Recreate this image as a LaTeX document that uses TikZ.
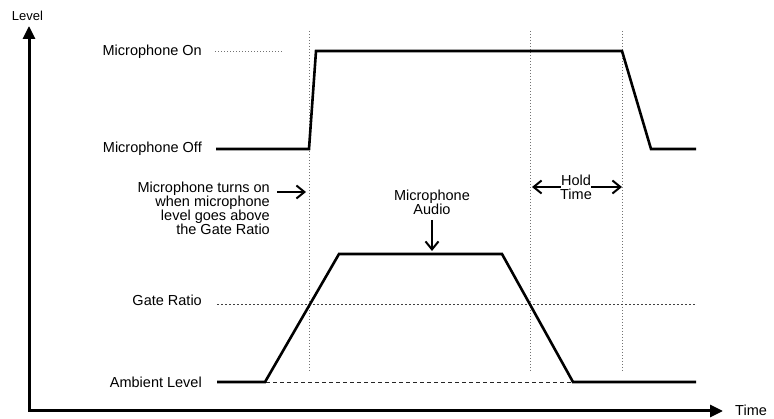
\documentclass[tikz,border=0pt]{standalone}
\usepackage{fontspec}
\setmainfont{Liberation Sans}
\usetikzlibrary{arrows.meta}
\begin{document}
\begin{tikzpicture}[x=1pt,y=-1pt,
  lbl/.style={font=\fontsize{14.5}{14}\selectfont, inner sep=0pt},
  wave/.style={line width=2.6pt, line join=miter},
  guide/.style={black!55, line width=0.8pt, dash pattern=on 0.8pt off 2.2pt},
  gate/.style={black!75, line width=0.8pt, dash pattern=on 2pt off 2pt},
  amb/.style={black!85, line width=0.9pt, dash pattern=on 4pt off 3pt},
  axis/.style={line width=3pt, line join=miter,
    {Triangle[length=13pt,width=12pt]}-{Triangle[length=13pt,width=12pt]}},
  pointer/.style={line width=1.3pt, -{Straight Barb[length=8pt,width=13pt,line width=2pt]}}
]
\useasboundingbox (0,0) rectangle (774,419);

% axes
\coordinate (O) at (29,411);
\coordinate (ytip) at (29,26);
\coordinate (xtip) at (723,411);
\draw[axis] (ytip) -- (O) -- (xtip);
\node[font=\fontsize{13}{13}\selectfont, inner sep=0pt, anchor=base] (level) at (27.5,20.5) {Level};
\node[lbl, anchor=base west] (time) at (735,416) {Time};

% level labels
\node[lbl, anchor=base east] (mon) at (202,56) {Microphone On};
\node[lbl, anchor=base east] (moff) at (202,153) {Microphone Off};
\node[lbl, anchor=base east] (gate) at (202,306) {Gate Ratio};
\node[lbl, anchor=base east] (amb) at (202,387.5) {Ambient Level};

% guide lines
\draw[guide] (215,51) -- (283,51);
\coordinate (v1t) at (309,31); \coordinate (v1b) at (309,372);
\coordinate (v2t) at (530,31); \coordinate (v2b) at (530,372);
\coordinate (v3t) at (622,31); \coordinate (v3b) at (622,372);
\draw[guide] (v1t) -- (v1b);
\draw[guide] (v2t) -- (v2b);
\draw[guide] (v3t) -- (v3b);
\draw[gate] (217,304) -- (696,304);
\draw[amb] (217,382) -- (696,382);

% waveforms
\draw[wave] (216,149) -- (309,149) -- (316,51) -- (622,51) -- (651,149) -- (696,149);
\draw[wave] (217,382) -- (265,382) -- (339,254) -- (502,254) -- (573,382) -- (696,382);

% annotation: microphone turns on
\node[lbl, align=right, anchor=base east] (turn) at (270,235)
  {Microphone turns on\\when microphone\\level goes above\\the Gate Ratio};
\coordinate (turnA) at (277,192);
\coordinate (turnB) at (306,192);
\draw[pointer] (turnA) -- (turnB);

% annotation: microphone audio
\node[lbl, align=center, anchor=base] (audio) at (432,214.5) {Microphone\\Audio};
\coordinate (audioB) at (432,251);
\draw[pointer] (audio.south) ++(0,5) -- (audioB);

% hold time
\node[lbl, anchor=base] (hold) at (576,186) {Hold};
\node[lbl, anchor=base] (htime) at (576,199.5) {Time};
\coordinate (holdL) at (532,187);
\coordinate (holdR) at (622,187);
\draw[pointer] ([yshift=-1pt]hold.base west) -- (holdL);
\draw[pointer] ([yshift=-1pt]hold.base east) -- (holdR);
\end{tikzpicture}
\end{document}
